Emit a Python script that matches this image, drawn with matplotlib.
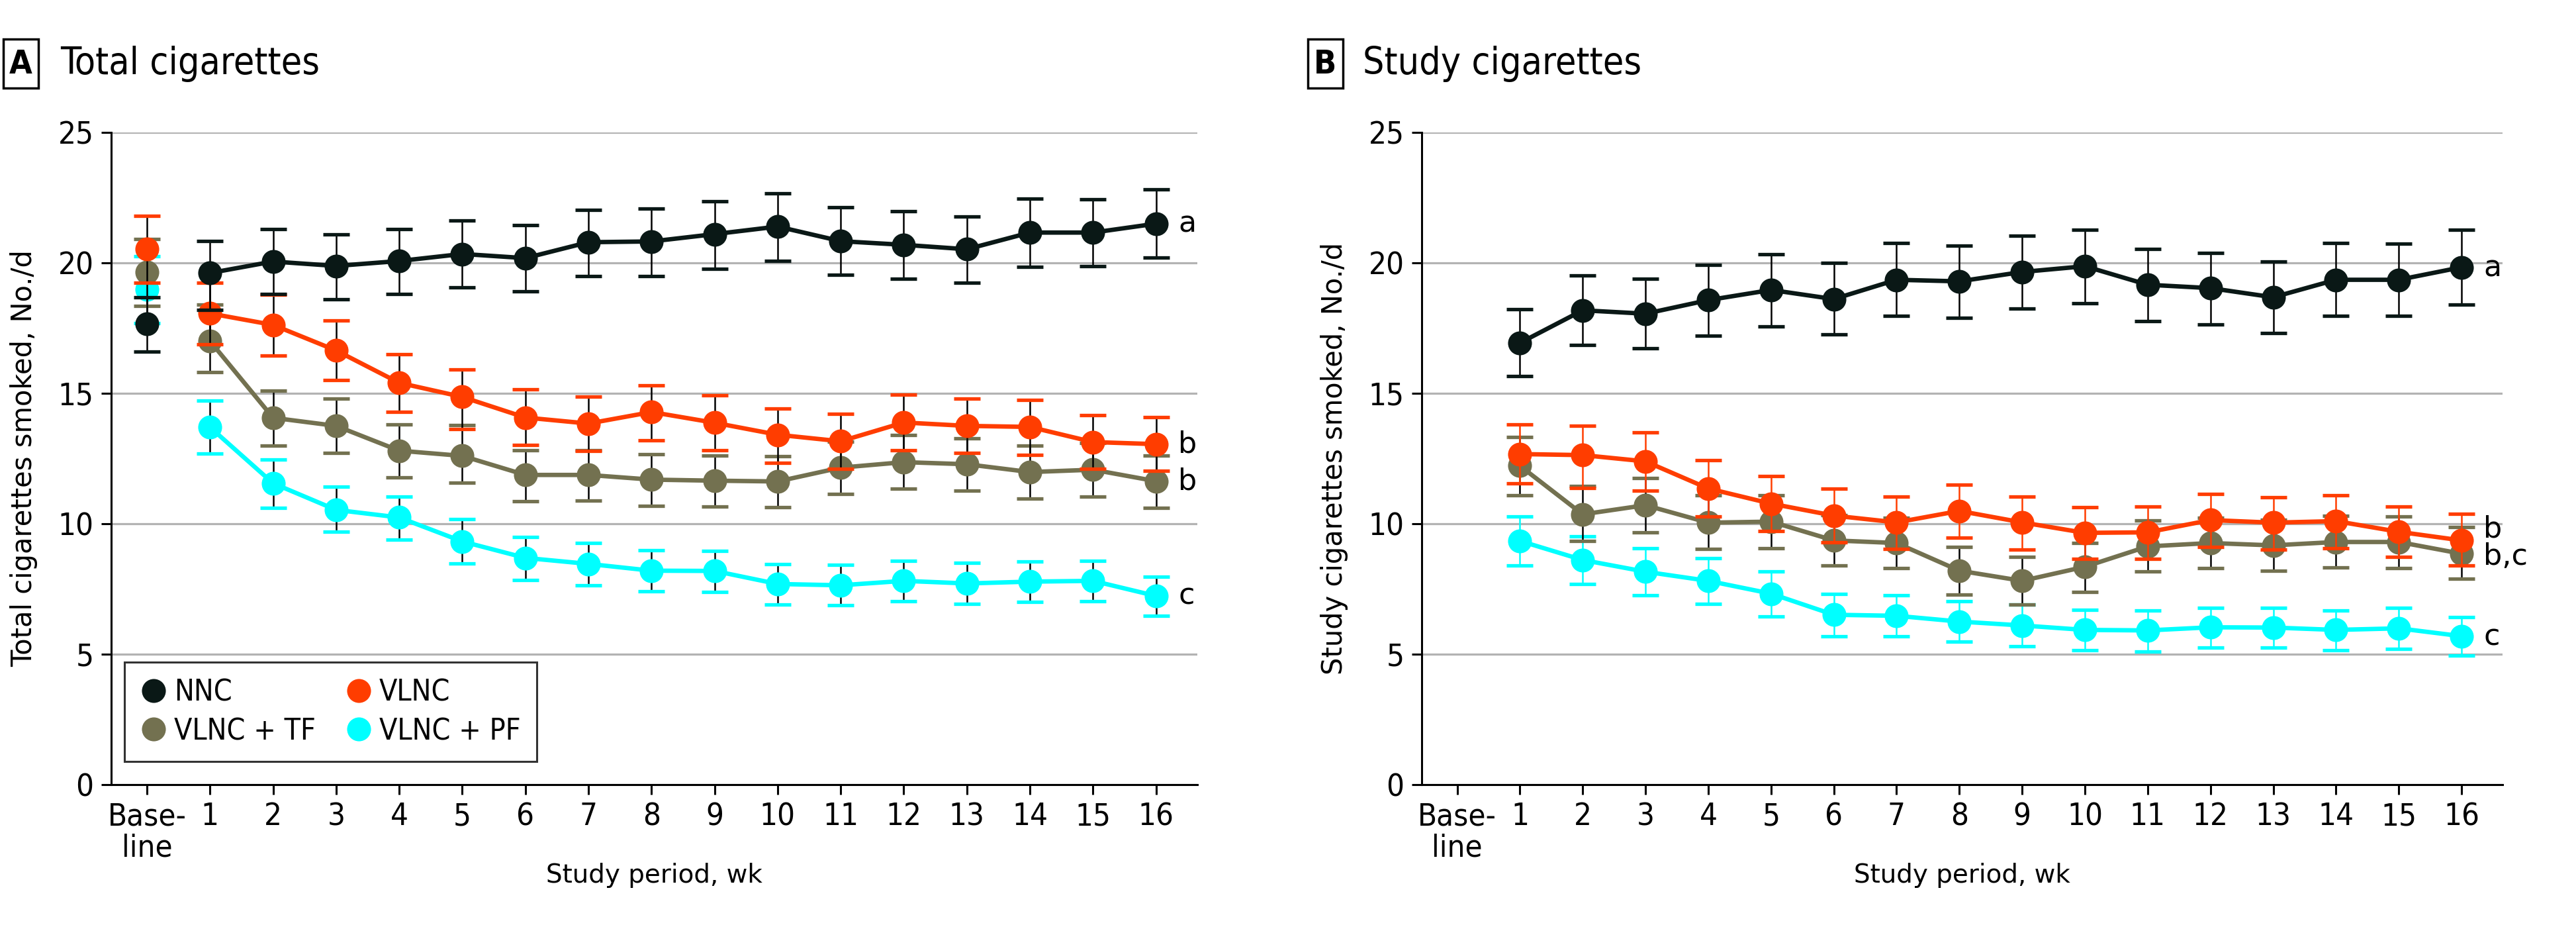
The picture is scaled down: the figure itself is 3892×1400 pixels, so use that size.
import os
import numpy as np
import matplotlib
matplotlib.use("Agg")
import matplotlib.pyplot as plt
from matplotlib.lines import Line2D
from matplotlib.patches import Rectangle
from matplotlib import font_manager as fm

# ---- data ----
groups = ["NNC", "VLNC", "VLNC + TF", "VLNC + PF"]
colors = ["#0a1816", "#ff3d00", "#737150", "#00ffff"]
tick_labels = ["Base-\nline"] + [str(w) for w in range(1, 17)]
ytick_vals = [0, 5, 10, 15, 20, 25]

weeks_a = list(range(0, 17))   # 0 = baseline
weeks_b = list(range(1, 17))

# Panel A: total cigarettes
a_nnc = [17.66, 19.61, 20.05, 19.88, 20.07, 20.34, 20.18, 20.79, 20.82, 21.10, 21.39, 20.83, 20.69, 20.52, 21.16, 21.16, 21.50]
a_nnc_hi = [18.67, 20.84, 21.29, 21.10, 21.30, 21.61, 21.44, 22.04, 22.08, 22.37, 22.67, 22.13, 21.99, 21.77, 22.45, 22.43, 22.81]
a_nnc_lo = [16.60, 18.19, 18.80, 18.60, 18.80, 19.06, 18.91, 19.50, 19.50, 19.78, 20.08, 19.55, 19.40, 19.24, 19.85, 19.86, 20.20]

a_vlnc = [20.53, 18.06, 17.62, 16.64, 15.40, 14.86, 14.07, 13.84, 14.28, 13.87, 13.41, 13.16, 13.88, 13.75, 13.71, 13.13, 13.05]
a_vlnc_hi = [21.80, 19.24, 18.78, 17.79, 16.50, 15.92, 15.14, 14.88, 15.31, 14.92, 14.41, 14.21, 14.95, 14.80, 14.75, 14.15, 14.09]
a_vlnc_lo = [19.24, 16.88, 16.45, 15.50, 14.30, 13.62, 13.01, 12.78, 13.20, 12.81, 12.34, 12.10, 12.82, 12.71, 12.64, 12.10, 12.02]

a_tf = [19.64, 17.00, 14.06, 13.75, 12.80, 12.60, 11.87, 11.87, 11.69, 11.65, 11.62, 12.15, 12.36, 12.28, 11.98, 12.07, 11.63]
a_tf_hi = [20.90, 18.39, 15.10, 14.79, 13.80, 13.78, 12.82, 12.82, 12.66, 12.62, 12.59, 13.15, 13.39, 13.28, 13.00, 13.10, 12.62]
a_tf_lo = [18.34, 15.80, 13.00, 12.72, 11.78, 11.58, 10.87, 10.89, 10.69, 10.65, 10.63, 11.14, 11.35, 11.28, 10.96, 11.05, 10.61]

a_pf = [18.99, 13.70, 11.55, 10.53, 10.24, 9.32, 8.69, 8.46, 8.20, 8.19, 7.69, 7.64, 7.81, 7.71, 7.78, 7.81, 7.23]
a_pf_hi = [20.26, 14.73, 12.46, 11.42, 11.05, 10.18, 9.50, 9.26, 8.99, 8.96, 8.45, 8.42, 8.57, 8.50, 8.56, 8.57, 7.98]
a_pf_lo = [17.70, 12.69, 10.60, 9.70, 9.40, 8.47, 7.85, 7.63, 7.40, 7.38, 6.90, 6.88, 7.02, 6.92, 7.00, 7.03, 6.46]

# Panel B: study cigarettes
b_nnc = [16.93, 18.18, 18.05, 18.57, 18.96, 18.61, 19.35, 19.29, 19.65, 19.87, 19.16, 19.03, 18.68, 19.35, 19.35, 19.83]
b_nnc_hi = [18.22, 19.52, 19.39, 19.91, 20.32, 20.00, 20.75, 20.65, 21.04, 21.26, 20.52, 20.39, 20.04, 20.75, 20.74, 21.26]
b_nnc_lo = [15.65, 16.86, 16.73, 17.21, 17.57, 17.25, 17.96, 17.90, 18.25, 18.44, 17.77, 17.64, 17.30, 17.96, 17.96, 18.40]

b_vlnc = [12.67, 12.63, 12.39, 11.35, 10.77, 10.31, 10.05, 10.49, 10.05, 9.65, 9.67, 10.14, 10.04, 10.10, 9.69, 9.36]
b_vlnc_hi = [13.80, 13.75, 13.49, 12.43, 11.82, 11.34, 11.05, 11.50, 11.05, 10.64, 10.66, 11.14, 11.02, 11.09, 10.66, 10.38]
b_vlnc_lo = [11.54, 11.37, 11.28, 10.27, 9.73, 9.30, 9.04, 9.46, 9.01, 8.65, 8.65, 9.10, 9.00, 9.07, 8.72, 8.39]

b_tf = [12.22, 10.36, 10.71, 10.04, 10.08, 9.36, 9.26, 8.20, 7.81, 8.35, 9.13, 9.26, 9.17, 9.30, 9.30, 8.85]
b_tf_hi = [13.33, 11.44, 11.75, 11.09, 11.10, 10.34, 10.23, 9.10, 8.74, 9.27, 10.12, 10.23, 10.15, 10.30, 10.27, 9.86]
b_tf_lo = [11.09, 9.34, 9.66, 9.04, 9.07, 8.39, 8.29, 7.29, 6.90, 7.39, 8.17, 8.29, 8.20, 8.33, 8.29, 7.90]

b_pf = [9.34, 8.61, 8.16, 7.81, 7.32, 6.51, 6.47, 6.25, 6.10, 5.93, 5.91, 6.03, 6.02, 5.93, 5.99, 5.69]
b_pf_hi = [10.27, 9.52, 9.07, 8.69, 8.17, 7.32, 7.26, 7.03, 6.90, 6.71, 6.67, 6.77, 6.77, 6.67, 6.77, 6.42]
b_pf_lo = [8.39, 7.68, 7.26, 6.93, 6.45, 5.69, 5.69, 5.47, 5.30, 5.14, 5.11, 5.24, 5.24, 5.16, 5.21, 4.96]

# significance letters at week 16
a_letters = ["a", "b", "b", "c"]
b_letters = ["a", "b", "b,c", "c"]


def find_narrow(bold=False):
    # look for any condensed / narrow face that is installed
    best = None
    for f in fm.fontManager.ttflist:
        base = os.path.basename(f.fname).lower()
        narrow = ("narrow" in f.name.lower() or "condensed" in f.name.lower()
                  or "narrow" in base or "condensed" in base
                  or str(f.stretch) in ("condensed", "semi-condensed"))
        if not narrow or f.style != "normal" or "semi" in base or "extra" in base:
            continue
        w = f.weight if isinstance(f.weight, int) else (700 if "bold" in str(f.weight) else 400)
        if (w >= 600) != bold:
            continue
        score = 0 if "liberation" in base else (1 if "dejavu" in base else 2)
        if best is None or score < best[0]:
            best = (score, f.fname)
    return best[1] if best else None


narrow_path = find_narrow()
narrow_bold_path = find_narrow(bold=True)


def nfont(size, bold=False):
    path = narrow_bold_path if bold else narrow_path
    if path:
        return fm.FontProperties(fname=path, size=size)
    return fm.FontProperties(family="DejaVu Sans", size=size,
                             weight="bold" if bold else "normal")


def draw_panel(ax, weeks, series, stem_colors, letters, letter_y, ylabel):
    weeks = np.array(weeks)
    on_study = weeks >= 1
    # draw in reverse so NNC ends on top
    for i in reversed(range(4)):
        mean, lo, hi = [np.array(v) for v in series[i]]
        z = 3 + (3 - i) * 0.1
        ax.vlines(weeks, lo, hi, color=stem_colors[i], lw=1.8, zorder=z)
        ax.plot(weeks, lo, ls="none", marker="_", ms=29, mew=3.8, color=colors[i], zorder=z + 0.01)
        ax.plot(weeks, hi, ls="none", marker="_", ms=29, mew=3.8, color=colors[i], zorder=z + 0.01)
        ax.plot(weeks[on_study], mean[on_study], "-", color=colors[i], lw=4.8, zorder=z + 0.02)
        ax.plot(weeks, mean, ls="none", marker="o", color=colors[i], ms=26, mew=0, zorder=z + 0.03)
        ax.text(16.35, letter_y[i], letters[i], fontsize=32, family="DejaVu Sans",
                ha="left", va="center", zorder=6)

    ax.set_xlim(-0.565, 16.65)
    ax.set_ylim(0, 25)
    ax.set_yticks(ytick_vals)
    ax.set_yticklabels([str(v) for v in ytick_vals], fontproperties=nfont(34))
    ax.set_xticks(range(0, 17))
    ax.set_xticklabels(tick_labels, fontproperties=nfont(34), linespacing=1.05)
    ax.yaxis.grid(True, color="#b3b3b3", lw=2.3, zorder=0)
    ax.set_axisbelow(True)
    for s in ["top", "right"]:
        ax.spines[s].set_visible(False)
    for s in ["left", "bottom"]:
        ax.spines[s].set_linewidth(2.2)
        ax.spines[s].set_color("black")
    ax.tick_params(axis="both", width=2.2, length=11, pad=8, direction="out")
    ax.set_xlabel("Study period, wk", fontsize=28, family="DejaVu Sans", labelpad=0)
    ax.set_ylabel(ylabel, fontsize=30, family="DejaVu Sans", labelpad=22)


fig = plt.figure(figsize=(38.92, 14), dpi=100)
ax_a = fig.add_axes([0.0432, 0.1536, 0.4215, 0.7036])
ax_b = fig.add_axes([0.5519, 0.1536, 0.4195, 0.7036])

series_a = [(a_nnc, a_nnc_lo, a_nnc_hi), (a_vlnc, a_vlnc_lo, a_vlnc_hi),
            (a_tf, a_tf_lo, a_tf_hi), (a_pf, a_pf_lo, a_pf_hi)]
series_b = [(b_nnc, b_nnc_lo, b_nnc_hi), (b_vlnc, b_vlnc_lo, b_vlnc_hi),
            (b_tf, b_tf_lo, b_tf_hi), (b_pf, b_pf_lo, b_pf_hi)]

draw_panel(ax_a, weeks_a, series_a, ["black"] * 4, a_letters,
           [21.5, 13.05, 11.63, 7.23], "Total cigarettes smoked, No./d")
draw_panel(ax_b, weeks_b, series_b, ["black", colors[1], "black", colors[3]], b_letters,
           [19.8, 9.8, 8.75, 5.65], "Study cigarettes smoked, No./d")

# legend in panel A
handles = [Line2D([], [], ls="none", marker="o", ms=26, color=c, mew=0) for c in colors]
order = [0, 2, 1, 3]
leg = ax_a.legend([handles[i] for i in order], [groups[i] for i in order], ncol=2,
                  loc="lower left", bbox_to_anchor=(0.012, 0.035), borderaxespad=0,
                  prop=nfont(32), frameon=True, fancybox=False, edgecolor="black",
                  handletextpad=0.25, columnspacing=1.0, labelspacing=0.35,
                  borderpad=0.55, handlelength=0.9)
leg.get_frame().set_linewidth(2.2)

# panel titles with boxed letters
for bx, tx, letter, title in [(0.0013, 0.0235, "A", "Total cigarettes"),
                               (0.5077, 0.5290, "B", "Study cigarettes")]:
    fig.patches.append(Rectangle((bx, 0.905), 0.0135, 0.0529, transform=fig.transFigure,
                                 fill=False, lw=2.5, edgecolor="black"))
    fig.text(bx + 0.00675, 0.931, letter, ha="center", va="center", fontproperties=nfont(36, bold=True))
    fig.text(tx, 0.931, title, ha="left", va="center", fontproperties=nfont(41))

fig.savefig("out.png", dpi=100)
